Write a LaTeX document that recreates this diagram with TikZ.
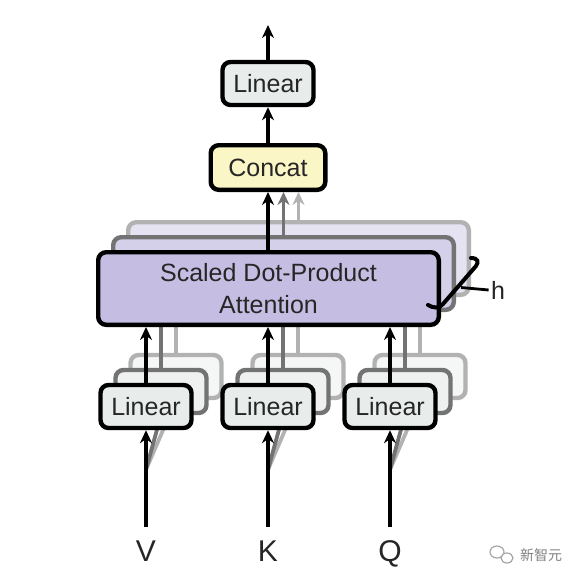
\documentclass[tikz,border=0pt]{standalone}
\usepackage{fontspec}
\setmainfont{Liberation Sans}
\newfontfamily\cjk{Noto Sans CJK SC}
\usetikzlibrary{positioning,arrows,shapes}
\usetikzlibrary{arrows.meta}
\definecolor{linfill}{RGB}{232,236,234}
\definecolor{catfill}{RGB}{251,246,198}
\definecolor{attfill}{RGB}{197,190,226}
\tikzstyle{box}  = [rectangle, rounded corners=4pt, draw=black, line width=2.2pt,
                    text=black!85, text centered, font=\fontsize{12.5}{16}\selectfont]
\tikzstyle{lin}  = [box, fill=linfill, minimum width=45.5pt, minimum height=21.5pt]
\tikzstyle{cat}  = [box, fill=catfill, minimum width=57.3pt, minimum height=22.3pt]
\tikzstyle{att}  = [box, fill=attfill, minimum width=170.3pt, minimum height=36.3pt, align=center]
\tikzstyle{flow} = [line width=1.9pt, -{Stealth[length=6.5pt,width=6pt]}]
\tikzstyle{lbl}  = [text=black!85, font=\fontsize{15}{18}\selectfont, text height=11pt, inner ysep=6.25pt, anchor=base]

\begin{document}
\begin{tikzpicture}[x=0.5pt,y=-0.5pt]
	\useasboundingbox (0,0) rectangle (580,580);

	% top part
	\node[lin] (out) at (268,83.5) {Linear};
	\node[cat] (cat) at (268,167.5) {Concat};
	\coordinate (top) at (268,25);
	\draw[flow] (out.north) -- (top);
	\draw[flow] (cat.north) -- (out.south);

	% inputs
	\node[lbl] (V) at (146,561.5) {V};
	\node[lbl] (K) at (268,561.5) {K};
	\node[lbl] (Q) at (390,561.5) {Q};

	% the other heads, back to front
	\foreach \k/\d/\g/\f in {2/30/30/45,1/15/55/72}{
		\node[att, draw=black!\g, fill=attfill!\f] (sdpa\k) at (268.5+\d,288.5-\d) {};
		\draw[flow, black!\g] (sdpa\k.north) -- (sdpa\k.north |- cat.south);
		\foreach \c/\x in {V/146,K/268,Q/390}{
			\draw[flow, black!\g] ([yshift=28.5pt]\c.north) -- (\x+\d,406.5-\d+23.5);
			\node[lin, draw=black!\g, fill=linfill!\f] (lin\c\k) at (\x+\d,406.5-\d) {};
			\draw[flow, black!\g] (lin\c\k.north) -- (lin\c\k.north |- sdpa\k.south);
		}
	}

	% front head
	\node[att] (sdpa) at (268.5,288.5) {Scaled Dot-Product\\Attention};
	\draw[flow] (sdpa.north -| cat.south) -- (cat.south);
	\foreach \c/\x in {V/146,K/268,Q/390}{
		\node[lin] (lin\c) at (\x,406.5) {Linear};
		\draw[flow] (\c.north) -- (lin\c.south);
		\draw[flow] (lin\c.north) -- (lin\c.north |- sdpa.south);
	}

	% h bracket
	\draw[line width=2pt, line cap=round] (471,258) .. controls (478,258) and (479,262) .. (476,266)
		-- (443,304) .. controls (439,309) and (433,308) .. (428,305);
	\coordinate (tick) at (461,287.5);
	\node[text=black!85, font=\fontsize{12.5}{15}\selectfont, inner sep=1pt] (h) at (498,290) {h};
	\draw[line width=1.4pt] (tick) -- (h.west);

	% watermark
	\draw[black!35, line width=0.6pt] (497,552) ellipse (7 and 6);
	\draw[black!35, line width=0.6pt, fill=white] (507,558) ellipse (6 and 5);
	\node[text=black!50, font=\cjk\fontsize{7}{8}\selectfont] (wm) at (541,555) {新智元};
\end{tikzpicture}
\end{document}
